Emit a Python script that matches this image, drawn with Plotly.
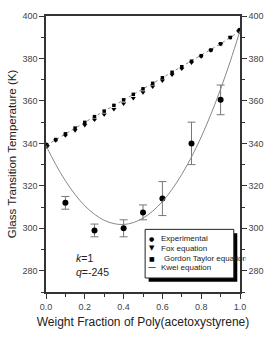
import plotly.graph_objects as go

# Experimental data
exp_x = [0.0, 0.1, 0.25, 0.4, 0.5, 0.6, 0.75, 0.9, 1.0]
exp_y = [339, 312, 299, 300, 307.5, 314, 340, 360.5, 393]
exp_err_plus = [0, 3, 3, 4, 3.5, 8, 10, 7, 0]
exp_err_minus = [0, 3, 3, 4, 3.5, 8, 10, 7, 0]

# Model curves (weight fraction grid)
w = [0.0, 0.05, 0.1, 0.15, 0.2, 0.25, 0.3, 0.35, 0.4, 0.45, 0.5,
     0.55, 0.6, 0.65, 0.7, 0.75, 0.8, 0.85, 0.9, 0.95, 1.0]
fox = [339, 341.3, 343.7, 346.1, 348.6, 351.1, 353.6, 356.1, 358.7, 361.3, 364.0,
       366.7, 369.5, 372.3, 375.1, 378.0, 380.9, 383.8, 386.8, 389.9, 393]
gordon = [339, 341.8, 344.5, 347.2, 349.9, 352.6, 355.2, 357.9, 360.5, 363.1, 365.7,
          368.3, 370.9, 373.5, 376.1, 378.7, 381.3, 384.0, 386.9, 389.9, 393]
kwei = [339, 330.1, 322.4, 315.9, 310.6, 306.6, 303.8, 302.2, 301.8, 302.7, 304.8,
        308.1, 312.6, 318.4, 325.4, 333.6, 343.0, 353.7, 365.6, 378.7, 393]

x_ticks = [0.0, 0.2, 0.4, 0.6, 0.8, 1.0]
x_tick_labels = ["0.0", "0.2", "0.4", "0.6", "0.8", "1.0"]
y_ticks = [280, 300, 320, 340, 360, 380, 400]

legend_names = ["Experimental", "Fox equation", "Gordon Taylor equation", "Kwei equation"]
legend_symbols = ["●", "▼", "■", "—"]

FONT = "Liberation Sans, Arial, sans-serif"
AX = "#333333"

fig = go.Figure()

fig.add_trace(go.Scatter(
    x=exp_x, y=exp_y, mode="markers", name=legend_names[0],
    marker=dict(symbol="circle", size=6, color="black"),
    error_y=dict(type="data", array=exp_err_plus, arrayminus=exp_err_minus,
                 color="#777777", thickness=1, width=4),
))
fig.add_trace(go.Scatter(
    x=w, y=fox, mode="markers", name=legend_names[1],
    marker=dict(symbol="triangle-down", size=4.5, color="black"),
))
fig.add_trace(go.Scatter(
    x=w, y=gordon, mode="lines+markers", name=legend_names[2],
    marker=dict(symbol="square", size=3.5, color="black"),
    line=dict(color="#888888", width=1, dash="dot"),
))
fig.add_trace(go.Scatter(
    x=w, y=kwei, mode="lines", name=legend_names[3],
    line=dict(color="#888888", width=1, shape="spline"),
))
# trace on right axis so it renders
fig.add_trace(go.Scatter(
    x=w, y=kwei, mode="lines", yaxis="y2", showlegend=False,
    line=dict(color="rgba(0,0,0,0)"), hoverinfo="skip",
))

fig.update_layout(
    width=275, height=338,
    margin=dict(l=33, r=23, t=11, b=32),
    paper_bgcolor="white", plot_bgcolor="white",
    font=dict(family=FONT, size=9, color="#333333"),
    showlegend=False,
    xaxis=dict(
        range=[0, 1.0], tickvals=x_ticks, ticktext=x_tick_labels,
        ticks="outside", ticklen=5, tickwidth=1, tickcolor=AX,
        showline=True, linecolor=AX, linewidth=1.5, mirror=True,
        showgrid=False, zeroline=False,
        minor=dict(dtick=0.1, ticks="outside", ticklen=3, tickcolor=AX),
        tickfont=dict(size=9, color="#444444"),
        title=dict(text="Weight Fraction of Poly(acetoxystyrene)",
                   font=dict(size=12, color="#222222"), standoff=7),
    ),
    yaxis=dict(
        range=[270, 400], tickvals=y_ticks,
        ticks="outside", ticklen=5, tickwidth=1, tickcolor=AX,
        showline=True, linecolor=AX, linewidth=1.5,
        showgrid=False, zeroline=False,
        minor=dict(dtick=10, ticks="outside", ticklen=3, tickcolor=AX),
        tickfont=dict(size=9, color="#444444"),
        title=dict(text="Glass Transition Temperature (K)",
                   font=dict(size=11.5, color="#222222"), standoff=3),
    ),
    yaxis2=dict(
        range=[270, 400], tickvals=y_ticks, overlaying="y", side="right",
        ticks="outside", ticklen=5, tickwidth=1, tickcolor=AX,
        showline=True, linecolor=AX, linewidth=1.5,
        showgrid=False, zeroline=False,
        minor=dict(dtick=10, ticks="outside", ticklen=3, tickcolor=AX),
        tickfont=dict(size=9, color="#444444"),
    ),
)

# Legend box with shadow (in data coordinates of the plot area)
fig.add_shape(type="rect", xref="x", yref="y", x0=0.529, x1=0.986, y0=274.8, y1=297.7,
              fillcolor="black", line=dict(width=0), layer="above")
fig.add_shape(type="rect", xref="x", yref="y", x0=0.511, x1=0.968, y0=276.6, y1=299.5,
              fillcolor="white", line=dict(color="#222222", width=1), layer="above")

row_y = [295.1, 290.7, 285.9, 281.5]
sym_size = [6, 7, 6, 8]
text_x = [0.58, 0.58, 0.6, 0.58]
for i in range(4):
    fig.add_annotation(x=0.545, y=row_y[i], xref="x", yref="y", xanchor="center",
                       text=legend_symbols[i], showarrow=False,
                       font=dict(size=sym_size[i], color="black", family="DejaVu Sans"))
    fig.add_annotation(x=text_x[i], y=row_y[i], xref="x", yref="y", xanchor="left",
                       text=legend_names[i], showarrow=False, align="left",
                       width=(0.968 - text_x[i]) * 219 + 1,
                       font=dict(size=8, color="#222222", family=FONT))

fig.add_annotation(x=0.146, y=285.9, xref="x", yref="y", xanchor="left",
                   text="<i>k</i>=1", showarrow=False,
                   font=dict(size=10.5, color="#222222", family=FONT))
fig.add_annotation(x=0.146, y=279.6, xref="x", yref="y", xanchor="left",
                   text="<i>q</i>=-245", showarrow=False,
                   font=dict(size=10.5, color="#222222", family=FONT))

fig.write_html("out.html")
